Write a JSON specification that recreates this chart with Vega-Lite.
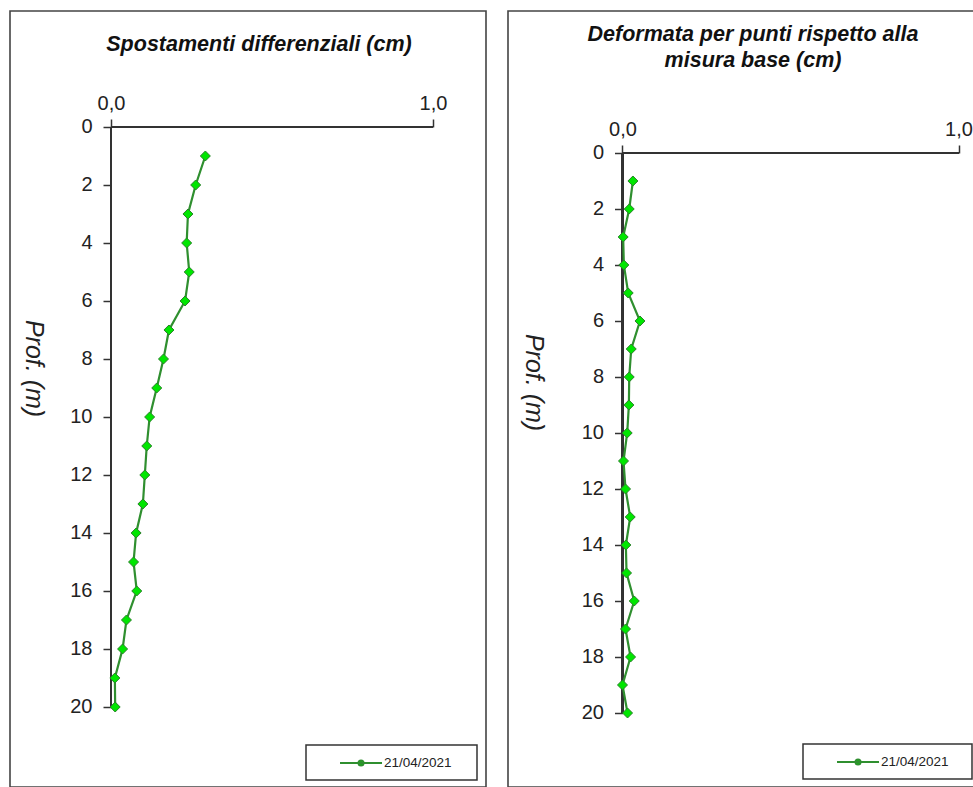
{
  "$schema": "https://vega.github.io/schema/vega-lite/v6.json",
  "padding": {"left": 9, "top": 10, "right": 0, "bottom": 0},
  "spacing": 20,
  "background": "white",
  "config": {
    "font": "Liberation Sans",
    "view": {"stroke": "#444444", "strokeWidth": 1.6},
    "axis": {"grid": false, "domain": false, "tickColor": "#333333", "tickWidth": 1.5, "tickSize": 8, "labelFont": "Liberation Sans", "labelFontSize": 20, "labelColor": "#222222"},
    "title": {"font": "Liberation Sans", "fontSize": 21.5, "fontStyle": "italic", "fontWeight": "bold", "color": "#111111", "anchor": "middle", "baseline": "alphabetic"}
  },
  "resolve": {"scale": {"color": "independent"}, "legend": {"color": "independent"}},
  "hconcat": [
    {
      "width": 476,
      "height": 776,
      "title": {"text": "Spostamenti differenziali (cm)", "offset": -44, "dx": 11},
      "data": {"values": [
        {"prof": 1, "val": 0.293, "data": "21/04/2021"},
        {"prof": 2, "val": 0.263, "data": "21/04/2021"},
        {"prof": 3, "val": 0.239, "data": "21/04/2021"},
        {"prof": 4, "val": 0.235, "data": "21/04/2021"},
        {"prof": 5, "val": 0.243, "data": "21/04/2021"},
        {"prof": 6, "val": 0.230, "data": "21/04/2021"},
        {"prof": 7, "val": 0.180, "data": "21/04/2021"},
        {"prof": 8, "val": 0.163, "data": "21/04/2021"},
        {"prof": 9, "val": 0.142, "data": "21/04/2021"},
        {"prof": 10, "val": 0.120, "data": "21/04/2021"},
        {"prof": 11, "val": 0.111, "data": "21/04/2021"},
        {"prof": 12, "val": 0.105, "data": "21/04/2021"},
        {"prof": 13, "val": 0.099, "data": "21/04/2021"},
        {"prof": 14, "val": 0.078, "data": "21/04/2021"},
        {"prof": 15, "val": 0.070, "data": "21/04/2021"},
        {"prof": 16, "val": 0.080, "data": "21/04/2021"},
        {"prof": 17, "val": 0.048, "data": "21/04/2021"},
        {"prof": 18, "val": 0.036, "data": "21/04/2021"},
        {"prof": 19, "val": 0.012, "data": "21/04/2021"},
        {"prof": 20, "val": 0.013, "data": "21/04/2021"}
      ]},
      "layer": [
        {
          "mark": {"type": "rule", "color": "#333333", "strokeWidth": 1.5},
          "encoding": {"x": {"datum": 0, "type": "quantitative"}, "y": {"datum": 0, "type": "quantitative"}, "y2": {"datum": 20}}
        },
        {
          "mark": {"type": "rule", "color": "#333333", "strokeWidth": 1.5},
          "encoding": {"y": {"datum": 0, "type": "quantitative"}, "x": {"datum": 0, "type": "quantitative"}, "x2": {"datum": 1}}
        },
        {
          "mark": {"type": "line", "strokeWidth": 2.2},
          "encoding": {
            "x": {"field": "val", "type": "quantitative", "scale": {"domain": [-0.31366, 1.1646], "nice": false, "zero": false},
                  "axis": {"orient": "top", "offset": -116, "values": [0, 1], "title": null, "labelBaseline": "alphabetic", "labelPadding": 10, "labelExpr": "replace(format(datum.value, '.1f'), '.', ',')"}},
            "y": {"field": "prof", "type": "quantitative", "scale": {"domain": [-4.0, 22.759], "reverse": true, "nice": false, "zero": false},
                  "axis": {"orient": "left", "offset": -101, "values": [0, 2, 4, 6, 8, 10, 12, 14, 16, 18, 20], "labelPadding": 11,
                           "title": "Prof. (m)", "titleFont": "Liberation Sans", "titleFontSize": 25, "titleFontStyle": "italic", "titleFontWeight": "normal", "titleColor": "#222222", "titleAngle": 90, "titleBaseline": "middle", "titleAlign": "center", "titleX": -78, "titleY": 357}},
            "order": {"field": "prof", "type": "quantitative"},
            "color": {"field": "data", "type": "nominal", "scale": {"range": ["#2f8f2f"]},
                      "legend": {"title": null, "orient": "none", "legendX": 296, "legendY": 734, "strokeColor": "#333333", "padding": 10,
                                 "symbolType": "M2.29,0H8.29M4.93,0A0.36,0.36,0,1,1,5.65,0A0.36,0.36,0,1,1,4.93,0ZM19.84,0", "symbolSize": 196, "symbolStrokeWidth": 2,
                                 "labelFont": "Liberation Sans", "labelFontSize": 13.5, "labelColor": "#222222", "labelOffset": 52,
                                 "encode": {"legend": {"update": {"strokeWidth": {"value": 1.5}}}, "symbols": {"update": {"fill": {"value": "#00cc00"}, "stroke": {"value": "#2f8f2f"}}}}}}
          }
        },
        {
          "mark": {"type": "point", "shape": "diamond", "filled": true, "fill": "#00e600", "stroke": "#2a7f2a", "strokeWidth": 1, "size": 100, "opacity": 1},
          "encoding": {"x": {"field": "val", "type": "quantitative"}, "y": {"field": "prof", "type": "quantitative"}}
        }
      ]
    },
    {
      "width": 473,
      "height": 776,
      "title": {"text": ["Deformata per punti rispetto alla", "misura base (cm)"], "offset": -60, "dx": 8.5, "lineHeight": 26},
      "data": {"values": [
        {"prof": 1, "val": 0.031, "data": "21/04/2021"},
        {"prof": 2, "val": 0.020, "data": "21/04/2021"},
        {"prof": 3, "val": 0.002, "data": "21/04/2021"},
        {"prof": 4, "val": 0.004, "data": "21/04/2021"},
        {"prof": 5, "val": 0.017, "data": "21/04/2021"},
        {"prof": 6, "val": 0.052, "data": "21/04/2021"},
        {"prof": 7, "val": 0.026, "data": "21/04/2021"},
        {"prof": 8, "val": 0.020, "data": "21/04/2021"},
        {"prof": 9, "val": 0.019, "data": "21/04/2021"},
        {"prof": 10, "val": 0.014, "data": "21/04/2021"},
        {"prof": 11, "val": 0.003, "data": "21/04/2021"},
        {"prof": 12, "val": 0.009, "data": "21/04/2021"},
        {"prof": 13, "val": 0.023, "data": "21/04/2021"},
        {"prof": 14, "val": 0.010, "data": "21/04/2021"},
        {"prof": 15, "val": 0.012, "data": "21/04/2021"},
        {"prof": 16, "val": 0.035, "data": "21/04/2021"},
        {"prof": 17, "val": 0.009, "data": "21/04/2021"},
        {"prof": 18, "val": 0.024, "data": "21/04/2021"},
        {"prof": 19, "val": 0.000, "data": "21/04/2021"},
        {"prof": 20, "val": 0.015, "data": "21/04/2021"}
      ]},
      "layer": [
        {
          "mark": {"type": "rule", "color": "#333333", "strokeWidth": 1.5},
          "encoding": {"x": {"datum": 0, "type": "quantitative"}, "y": {"datum": 0, "type": "quantitative"}, "y2": {"datum": 20}}
        },
        {
          "mark": {"type": "rule", "color": "#333333", "strokeWidth": 1.5},
          "encoding": {"y": {"datum": 0, "type": "quantitative"}, "x": {"datum": 0, "type": "quantitative"}, "x2": {"datum": 1}}
        },
        {
          "mark": {"type": "line", "strokeWidth": 2.2},
          "encoding": {
            "x": {"field": "val", "type": "quantitative", "scale": {"domain": [-0.34077, 1.06696], "nice": false, "zero": false},
                  "axis": {"orient": "top", "offset": -142, "values": [0, 1], "title": null, "labelBaseline": "alphabetic", "labelPadding": 10, "labelExpr": "replace(format(datum.value, '.1f'), '.', ',')"}},
            "y": {"field": "prof", "type": "quantitative", "scale": {"domain": [-5.0714, 22.643], "reverse": true, "nice": false, "zero": false},
                  "axis": {"orient": "left", "offset": -114.5, "values": [0, 2, 4, 6, 8, 10, 12, 14, 16, 18, 20], "labelPadding": 11,
                           "title": "Prof. (m)", "titleFont": "Liberation Sans", "titleFontSize": 25, "titleFontStyle": "italic", "titleFontWeight": "normal", "titleColor": "#222222", "titleAngle": 90, "titleBaseline": "middle", "titleAlign": "center", "titleX": -89, "titleY": 371}},
            "order": {"field": "prof", "type": "quantitative"},
            "color": {"field": "data", "type": "nominal", "scale": {"range": ["#2f8f2f"]},
                      "legend": {"title": null, "orient": "none", "legendX": 295, "legendY": 733, "strokeColor": "#333333", "padding": 10,
                                 "symbolType": "M2.29,0H8.29M4.93,0A0.36,0.36,0,1,1,5.65,0A0.36,0.36,0,1,1,4.93,0ZM19.44,0", "symbolSize": 196, "symbolStrokeWidth": 2,
                                 "labelFont": "Liberation Sans", "labelFontSize": 13.5, "labelColor": "#222222", "labelOffset": 52,
                                 "encode": {"legend": {"update": {"strokeWidth": {"value": 1.5}}}, "symbols": {"update": {"fill": {"value": "#00cc00"}, "stroke": {"value": "#2f8f2f"}}}}}}
          }
        },
        {
          "mark": {"type": "point", "shape": "diamond", "filled": true, "fill": "#00e600", "stroke": "#2a7f2a", "strokeWidth": 1, "size": 100, "opacity": 1},
          "encoding": {"x": {"field": "val", "type": "quantitative"}, "y": {"field": "prof", "type": "quantitative"}}
        }
      ]
    }
  ]
}
